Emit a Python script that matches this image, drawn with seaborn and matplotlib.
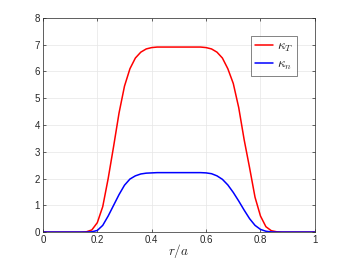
import numpy as np
import pandas as pd
import seaborn as sns
import matplotlib
matplotlib.use("Agg")
import matplotlib.pyplot as plt

# values
r = [0.00, 0.02, 0.04, 0.06, 0.08, 0.10, 0.12, 0.14, 0.16, 0.18,
     0.20, 0.22, 0.24, 0.26, 0.28, 0.30, 0.32, 0.34, 0.36, 0.38,
     0.40, 0.42, 0.44, 0.46, 0.48, 0.50, 0.52, 0.54, 0.56, 0.58,
     0.60, 0.62, 0.64, 0.66, 0.68, 0.70, 0.72, 0.74, 0.76, 0.78,
     0.80, 0.82, 0.84, 0.86, 0.88, 0.90, 0.92, 0.94, 0.96, 0.98, 1.00]
kappa_T = [0, 0, 0, 0, 0, 0, 0, 0, 0.01, 0.08,
           0.35, 0.95, 2.0, 3.2, 4.45, 5.45, 6.1, 6.5, 6.72, 6.84,
           6.89, 6.91, 6.91, 6.91, 6.91, 6.91, 6.91, 6.91, 6.91, 6.91,
           6.89, 6.84, 6.72, 6.5, 6.1, 5.55, 4.65, 3.45, 2.4, 1.3,
           0.6, 0.2, 0.05, 0.01, 0, 0, 0, 0, 0, 0, 0]
kappa_n = [0, 0, 0, 0, 0, 0, 0, 0, 0, 0.01,
           0.06, 0.25, 0.6, 1.0, 1.4, 1.75, 1.98, 2.1, 2.17, 2.2,
           2.21, 2.22, 2.22, 2.22, 2.22, 2.22, 2.22, 2.22, 2.22, 2.22,
           2.21, 2.18, 2.1, 1.97, 1.76, 1.48, 1.16, 0.82, 0.5, 0.25,
           0.1, 0.03, 0.005, 0, 0, 0, 0, 0, 0, 0, 0]

df = pd.DataFrame({"r": r, "kT": kappa_T, "kn": kappa_n})

sns.set_style("white")
plt.rcParams["font.family"] = ["Liberation Sans", "DejaVu Sans"]
plt.rcParams["mathtext.fontset"] = "cm"

fig = plt.figure(figsize=(3.46, 2.59), dpi=100)
ax = fig.add_axes([0.124, 0.104, 0.786, 0.827])

sns.lineplot(x="r", y="kT", data=df, color="red", linewidth=1.1,
             label=r"$\kappa_T$", ax=ax)
sns.lineplot(x="r", y="kn", data=df, color="blue", linewidth=1.1,
             label=r"$\kappa_n$", ax=ax)

ax.set_xlim(0, 1)
ax.set_ylim(0, 8)
ax.set_xticks([0, 0.2, 0.4, 0.6, 0.8, 1])
ax.set_xticklabels(["0", "0.2", "0.4", "0.6", "0.8", "1"])
ax.set_yticks(range(0, 9))
ax.set_xlabel(r"$r/a$", fontsize=9.5, labelpad=-2)
ax.set_ylabel("")

ax.grid(color="#e6e6e6", linewidth=0.5)
ax.tick_params(direction="in", length=2.5, width=0.5, labelsize=7,
               colors="#262626", top=True, right=True, bottom=True, left=True, pad=2)
for s in ax.spines.values():
    s.set_linewidth(0.5)
    s.set_color("#262626")

leg = ax.legend(loc="upper right", bbox_to_anchor=(0.935, 0.915), fontsize=9.5,
                frameon=True, fancybox=False, handlelength=1.4,
                borderpad=0.3, labelspacing=0.35, handletextpad=0.3,
                borderaxespad=0)
leg.get_frame().set_edgecolor("#262626")
leg.get_frame().set_linewidth(0.5)

fig.savefig("out.png", dpi=100)
